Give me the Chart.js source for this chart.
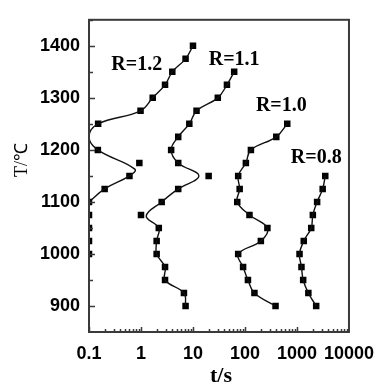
<!DOCTYPE html>
<html>
<head>
<meta charset="utf-8">
<script src="https://cdn.jsdelivr.net/npm/chart.js@4"></script>
<style>
  html, body { margin: 0; padding: 0; background: #fff; }
  #wrap { width: 385px; height: 389px; }
</style>
</head>
<body>
<div id="wrap"><canvas id="chart" width="385" height="389"></canvas></div>
<script>
// ─────────────────────────────────────────────
// DATA
// ─────────────────────────────────────────────
const X_TICKS = [0.1, 1, 10, 100, 1000, 10000];
const Y_TICKS = [900, 1000, 1100, 1200, 1300, 1400];

// markers
const R12_T = [1400, 1375, 1350, 1325, 1300, 1275, 1250, 1200, 1175, 1150, 1125, 1100, 1075, 1050, 1025, 1000];
const R12_t = [10, 7.2, 4, 2.9, 1.68, 0.98, 0.15, 0.148, 0.93, 0.6, 0.2, 0.1, 0.1, 0.1, 0.1, 0.1];

const R11_T = [1350, 1325, 1300, 1275, 1250, 1225, 1200, 1175, 1150, 1125, 1100, 1075, 1050, 1025, 1000, 975, 950, 925, 900];
const R11_t = [62, 45, 30, 11.7, 8.5, 5.2, 3.8, 5.2, 20, 5.2, 2.5, 1.0, 2.2, 2.0, 2.0, 2.9, 2.9, 6.7, 7.2];

const R10_T = [1250, 1225, 1200, 1175, 1150, 1125, 1100, 1075, 1050, 1025, 1000, 975, 950, 925, 900];
const R10_t = [650, 400, 130, 104, 74, 79, 71, 122, 270, 202, 74, 92, 114, 152, 387];

const R08_T = [1150, 1125, 1100, 1075, 1050, 1025, 1000, 975, 950, 925, 900];
const R08_t = [3500, 3120, 2440, 2020, 1880, 1350, 1120, 1220, 1315, 1655, 2340];

// fitted curves (traced where they leave the markers)
const R12_LINE_T = [1400, 1375, 1350, 1325, 1300, 1275, 1250, 1225, 1200, 1163, 1150, 1125, 1100];
const R12_LINE_t = [10, 7.2, 4, 2.9, 1.68, 0.98, 0.15, 0.1, 0.148, 0.76, 0.6, 0.2, 0.1];

const R11_LINE_T = [1350, 1325, 1300, 1275, 1250, 1225, 1200, 1175, 1150, 1125, 1100, 1073, 1050, 1025, 1000, 975, 950, 925, 900];
const R11_LINE_t = [62, 45, 30, 11.7, 8.5, 5.2, 3.8, 5.2, 13, 5.2, 2.5, 1.26, 2.2, 2.0, 2.0, 2.9, 2.9, 6.7, 7.2];

const LABELS = [
  { text: 'R=1.2', t: 0.83, T: 1364 },
  { text: 'R=1.1', t: 62,   T: 1374 },
  { text: 'R=1.0', t: 500,  T: 1285 },
  { text: 'R=0.8', t: 2350, T: 1184 }
];

const pts = (ts, Ts) => ts.map((v, i) => ({ x: v, y: Ts[i] }));

function lineSet(ts, Ts) {
  return {
    data: pts(ts, Ts), showLine: true, pointRadius: 0,
    borderColor: '#111', borderWidth: 1.4, tension: 0.4, fill: false
  };
}
function markerSet(ts, Ts) {
  return {
    data: pts(ts, Ts), showLine: false, pointStyle: 'rect',
    pointRadius: 4.6, backgroundColor: '#000', borderColor: '#000', borderWidth: 0
  };
}

// ─────────────────────────────────────────────
// FRAME, TICKS, TEXT
// ─────────────────────────────────────────────
const decor = {
  id: 'decor',
  afterDraw(chart) {
    const { ctx, chartArea: a, scales: { x, y } } = chart;
    ctx.save();
    ctx.strokeStyle = '#3a3a3a';
    ctx.lineWidth = 2;
    ctx.strokeRect(a.left, a.top, a.right - a.left, a.bottom - a.top);

    ctx.lineWidth = 1.5;
    ctx.beginPath();
    // y ticks, inward
    for (let v = 900; v <= 1450; v += 50) {
      const py = Math.round(y.getPixelForValue(v)) + 0.5;
      const len = v % 100 === 0 ? 6 : 4;
      ctx.moveTo(a.left, py); ctx.lineTo(a.left + len, py);
    }
    // x ticks, inward
    for (let d = -1; d < 4; d++) {
      for (let k = 1; k <= 9; k++) {
        const px = Math.round(x.getPixelForValue(k * Math.pow(10, d))) + 0.5;
        const len = k === 1 ? 5 : 3;
        ctx.moveTo(px, a.bottom); ctx.lineTo(px, a.bottom - len);
      }
    }
    ctx.stroke();

    ctx.fillStyle = '#000';
    ctx.textAlign = 'center';
    ctx.textBaseline = 'middle';
    ctx.font = 'bold 20px "Liberation Serif"';
    LABELS.forEach(l => {
      ctx.fillText(l.text, x.getPixelForValue(l.t), y.getPixelForValue(l.T));
    });

    ctx.font = 'bold 22px "Liberation Serif"';
    ctx.fillText('t/s', (a.left + a.right) / 2 + 2, 376);

    ctx.translate(22, 160);
    ctx.rotate(-Math.PI / 2);
    ctx.font = '18px "Liberation Serif"';
    ctx.fillText('T/℃', 0, 0);
    ctx.restore();
  }
};

new Chart(document.getElementById('chart'), {
  type: 'scatter',
  data: {
    datasets: [
      lineSet(R12_LINE_t, R12_LINE_T),
      lineSet(R11_LINE_t, R11_LINE_T),
      lineSet(R10_t, R10_T),
      lineSet(R08_t, R08_T),
      markerSet(R12_t, R12_T),
      markerSet(R11_t, R11_T),
      markerSet(R10_t, R10_T),
      markerSet(R08_t, R08_T)
    ]
  },
  options: {
    responsive: false,
    animation: false,
    layout: { padding: { left: 0, right: 31, top: 8, bottom: 0 } },
    plugins: { legend: { display: false }, tooltip: { enabled: false } },
    scales: {
      x: {
        type: 'logarithmic', min: 0.1, max: 10000,
        afterBuildTicks: s => { s.ticks = X_TICKS.map(v => ({ value: v })); },
        afterFit: s => { s.height = 57; },
        grid: { display: false, drawTicks: false },
        border: { display: false },
        ticks: {
          color: '#000', padding: 11, maxRotation: 0, autoSkip: false,
          font: { family: 'Liberation Sans', size: 18, weight: 'bold' },
          callback: v => String(v)
        }
      },
      y: {
        min: 850, max: 1450,
        afterBuildTicks: s => { s.ticks = Y_TICKS.map(v => ({ value: v })); },
        afterFit: s => { s.width = 89; },
        grid: { display: false, drawTicks: false },
        border: { display: false },
        ticks: {
          color: '#000', padding: 9,
          font: { family: 'Liberation Sans', size: 18, weight: 'bold' },
          callback: v => String(v)
        }
      }
    }
  },
  plugins: [decor]
});
</script>
</body>
</html>
